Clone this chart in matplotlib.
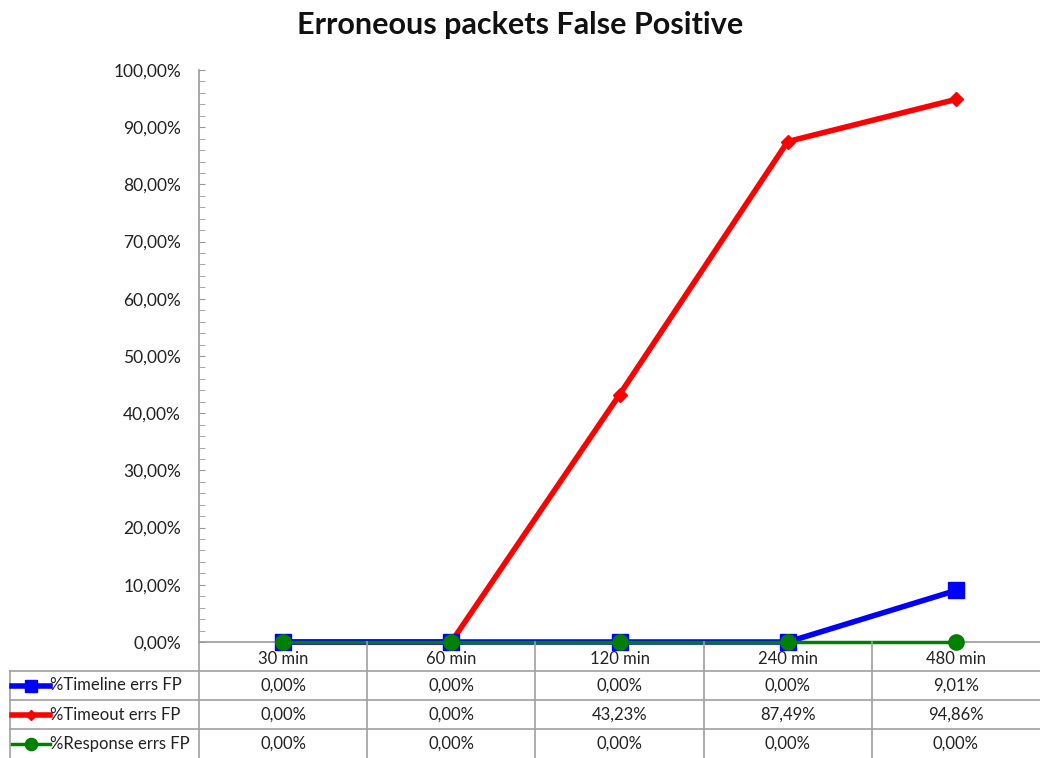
import numpy as np
import matplotlib.pyplot as plt
from matplotlib.ticker import MultipleLocator, FuncFormatter

# Data
categories = ['30 min', '60 min', '120 min', '240 min', '480 min']
series_names = ['%Timeline errs FP', '%Timeout errs FP', '%Response errs FP']
timeline = [0.0, 0.0, 0.0, 0.0, 9.01]
timeout = [0.0, 0.0, 43.23, 87.49, 94.86]
response = [0.0, 0.0, 0.0, 0.0, 0.0]

plt.rcParams['font.family'] = ['Lato', 'DejaVu Sans']

W, H = 1040, 758
fig = plt.figure(figsize=(W / 100, H / 100), dpi=100)

# plot area in pixels
px_left, px_right, px_top, px_bottom = 199, 1040, 70, 642
ax = fig.add_axes([px_left / W, 1 - px_bottom / H, (px_right - px_left) / W, (px_bottom - px_top) / H])

x = np.arange(len(categories))
styles = [
    dict(color='#0000ff', lw=4, marker='s', ms=11, zorder=4),
    dict(color='#ff0000', lw=4, marker='D', ms=7, zorder=3),
    dict(color='#008000', lw=2.5, marker='o', ms=11, zorder=5),
]
all_series = [timeline, timeout, response]
for vals, st in zip(all_series, styles):
    ax.plot(x, vals, color=st['color'], lw=st['lw'], marker=st['marker'], ms=st['ms'],
            mec=st['color'], mfc=st['color'], zorder=st['zorder'], clip_on=False)

ax.set_xlim(-0.5, len(categories) - 0.5)
ax.set_ylim(0, 100)
ax.yaxis.set_major_locator(MultipleLocator(10))
ax.yaxis.set_minor_locator(MultipleLocator(2))
ax.yaxis.set_major_formatter(FuncFormatter(lambda v, p: f'{v:.2f}%'.replace('.', ',')))
ax.tick_params(axis='y', which='both', direction='in', length=4, color='#999999',
               labelsize=12.5, pad=13, labelcolor='#222222')
ax.set_xticks([])
for s in ['top', 'right']:
    ax.spines[s].set_visible(False)
ax.spines['left'].set_color('#999999')
ax.spines['bottom'].set_color('#999999')
ax.spines['left'].set_linewidth(1.2)
ax.spines['bottom'].set_linewidth(1.2)

fig.text(0.5, 1 - 25 / H, 'Erroneous packets False Positive', ha='center', va='center',
         fontsize=22, fontweight='bold', color='#111111')

# data table below the chart
tab_left = 10
unit = (px_right - px_left) / len(categories)
x0 = -0.5 - (px_left - tab_left) / unit
tab = fig.add_axes([tab_left / W, 0, (W - tab_left) / W, (H - px_bottom) / H])
tab.set_xlim(x0, len(categories) - 0.5)
tab.set_ylim(4, 0)
tab.axis('off')

grid_c = '#a0a0a0'
bounds = np.arange(len(categories) + 1) - 0.5
# vertical lines
for b in bounds[:-1]:
    tab.plot([b, b], [0, 4], color=grid_c, lw=1.2, clip_on=False)
tab.plot([x0, x0], [1, 4], color=grid_c, lw=1.2, clip_on=False)
# horizontal lines
for r in [1, 2, 3]:
    tab.plot([x0, len(categories) - 0.5], [r, r], color=grid_c, lw=1.2, clip_on=False)

for i, c in enumerate(categories):
    tab.text(i, 0.58, c, ha='center', va='center', fontsize=12, color='#222222')

for r, (name, vals, st) in enumerate(zip(series_names, all_series, styles), start=1):
    ky = r + 0.5
    kx0, kx1 = x0 + 0.01, x0 + 0.235
    tab.plot([kx0, kx1], [ky, ky], color=st['color'], lw=st['lw'], clip_on=False)
    tab.plot([(kx0 + kx1) / 2], [ky], marker=st['marker'], ms=st['ms'] * 0.8,
             color=st['color'], clip_on=False)
    tab.text(kx1 + 0.005, ky, name, ha='left', va='center', fontsize=12, color='#222222')
    for i, v in enumerate(vals):
        tab.text(i, ky, f'{v:.2f}%'.replace('.', ','), ha='center', va='center',
                 fontsize=12, color='#222222')

fig.savefig('out.png', dpi=100)
